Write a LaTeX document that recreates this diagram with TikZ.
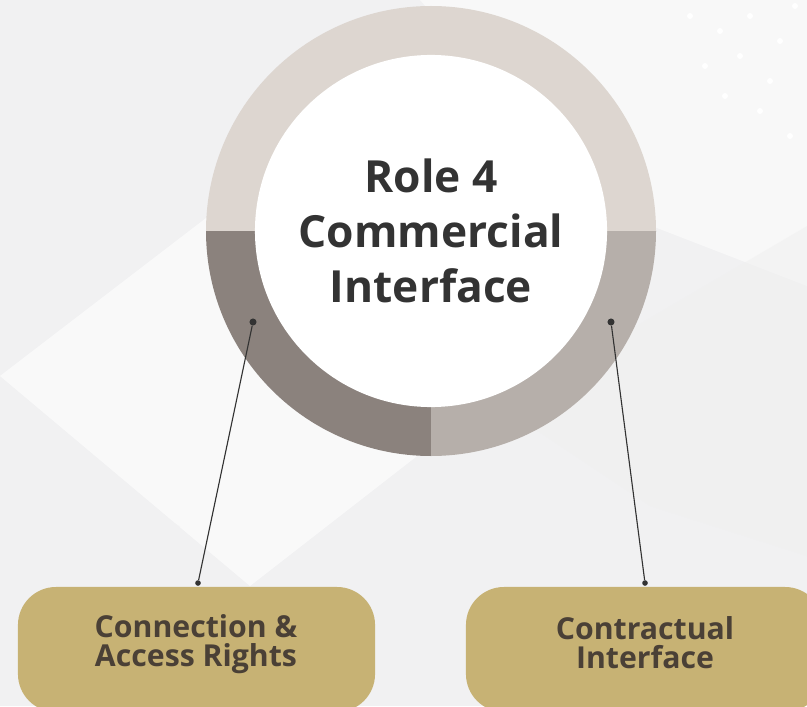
\documentclass[tikz,border=0pt]{standalone}
\usepackage{fontspec}
\setmainfont{Open Sans}
\usetikzlibrary{positioning}

\definecolor{paper}{HTML}{F1F1F2}
\definecolor{ringtop}{HTML}{DDD6D0}
\definecolor{ringleft}{HTML}{8B827D}
\definecolor{ringright}{HTML}{B6AFAA}
\definecolor{gold}{HTML}{C7B274}
\definecolor{hubtext}{HTML}{333333}
\definecolor{pilltext}{HTML}{4A4036}

\tikzset{
  hub/.style={circle, fill=white, minimum size=8.8cm, inner sep=0pt,
    align=center, text=hubtext, font=\bfseries\fontsize{31.5}{39}\selectfont},
  pill/.style={rectangle, rounded corners=0.95cm, fill=gold,
    minimum width=8.925cm, minimum height=3.125cm},
  pilllabel/.style={align=center, text=pilltext,
    font=\bfseries\fontsize{21.5}{20.5}\selectfont},
  dot/.style={circle, fill=hubtext, minimum size=5pt, inner sep=0pt},
  link/.style={hubtext, line width=0.8pt}
}

\begin{document}
\begin{tikzpicture}[x=0.025cm, y=0.025cm]

% backdrop
\fill[paper] (0,0) rectangle (807,706);
\fill[white, opacity=0.6] (0,330) -- (300,560) -- (520,330) -- (250,120) -- cycle;
\fill[white, opacity=0.5] (420,706) -- (807,706) -- (807,420) -- (600,500) -- cycle;
\fill[black!6, opacity=0.5] (500,300) -- (807,480) -- (807,150) -- (650,200) -- cycle;
\fill[black!5, opacity=0.5] (0,0) -- (0,260) -- (180,180) -- (120,0) -- cycle;
\foreach \x/\y in {690/690,720/675,750/690,780/665,705/640,740/650,770/625,795/700,725/610,760/595,790/570}
  \fill[white] (\x,\y) circle[radius=3];
\useasboundingbox (0,0) rectangle (807,706);

% ring around the hub
\fill[ringtop] (206,475) arc[start angle=180, end angle=0, radius=225] -- cycle;
\fill[ringleft] (431,475) -- (206,475) arc[start angle=180, end angle=270, radius=225] -- cycle;
\fill[ringright] (431,475) -- (431,250) arc[start angle=270, end angle=360, radius=225] -- cycle;

\node[hub] (role) at (431,475) {Role 4\\Commercial\\Interface};

% the two boxes below
\node[pill] (access) at (196.5,56.5) {};
\node[pilllabel] (accesstext) at (196,62) {Connection \&\\Access Rights};
\node[pill] (contract) at (644.5,56.5) {};
\node[pilllabel] (contracttext) at (645,63) {Contractual\\Interface};

\node[dot] (roleleft) at (253,384) {};
\node[dot] (roleright) at (611,384) {};
\node[dot, minimum size=4pt] (accesstop) at (198,123) {};
\node[dot, minimum size=4pt] (contracttop) at (645,123) {};

\draw[link] (roleleft) -- (accesstop);
\draw[link] (roleright) -- (contracttop);

\end{tikzpicture}
\end{document}
